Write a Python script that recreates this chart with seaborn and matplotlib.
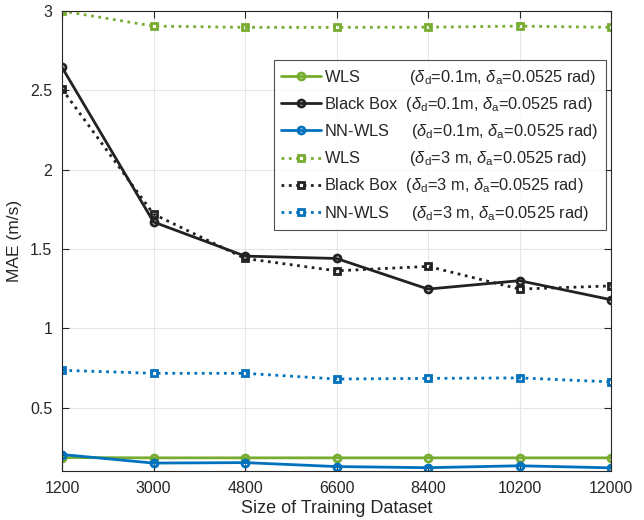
import numpy as np
import pandas as pd
import matplotlib
matplotlib.use("Agg")
import matplotlib.pyplot as plt
import seaborn as sns

sizes = [1200, 3000, 4800, 6600, 8400, 10200, 12000]
wls_01 = [0.185, 0.183, 0.183, 0.183, 0.183, 0.183, 0.183]
bb_01 = [2.645, 1.67, 1.455, 1.44, 1.247, 1.30, 1.18]
nn_01 = [0.204, 0.150, 0.153, 0.128, 0.121, 0.133, 0.120]
wls_3 = [3.0, 2.905, 2.897, 2.897, 2.898, 2.905, 2.897]
bb_3 = [2.508, 1.72, 1.44, 1.362, 1.39, 1.247, 1.267]
nn_3 = [0.735, 0.716, 0.716, 0.680, 0.684, 0.687, 0.662]

labels = [
    r'WLS           ($\delta_{\mathrm{d}}$=0.1m, $\delta_{\mathrm{a}}$=0.0525 rad)',
    r'Black Box  ($\delta_{\mathrm{d}}$=0.1m, $\delta_{\mathrm{a}}$=0.0525 rad)',
    r'NN-WLS     ($\delta_{\mathrm{d}}$=0.1m, $\delta_{\mathrm{a}}$=0.0525 rad)',
    r'WLS           ($\delta_{\mathrm{d}}$=3 m, $\delta_{\mathrm{a}}$=0.0525 rad)',
    r'Black Box  ($\delta_{\mathrm{d}}$=3 m, $\delta_{\mathrm{a}}$=0.0525 rad)',
    r'NN-WLS     ($\delta_{\mathrm{d}}$=3 m, $\delta_{\mathrm{a}}$=0.0525 rad)',
]

sns.set_theme(style="white")
plt.rcParams['font.family'] = ['Liberation Sans', 'DejaVu Sans']
plt.rcParams['mathtext.fontset'] = 'custom'
plt.rcParams['mathtext.rm'] = 'Liberation Sans'
plt.rcParams['mathtext.it'] = 'Liberation Sans:italic'

green = '#77AC30'
black = '#222222'
blue = '#0072BD'

fig = plt.figure(figsize=(6.44, 5.2), dpi=100)
ax = fig.add_axes([0.0963, 0.0942, 0.9488 - 0.0963, 0.9788 - 0.0942])

series = [
    (wls_01, green, '-', 'o'),
    (bb_01, black, '-', 'o'),
    (nn_01, blue, '-', 'o'),
    (wls_3, green, ':', 's'),
    (bb_3, black, ':', 's'),
    (nn_3, blue, ':', 's'),
]

for (vals, col, ls, mk), lab in zip(series, labels):
    df = pd.DataFrame({'x': sizes, 'y': vals})
    sns.lineplot(data=df, x='x', y='y', ax=ax, color=col, linestyle=ls,
                 marker=mk, markersize=5, markerfacecolor='none',
                 markeredgecolor=col, markeredgewidth=2, linewidth=2,
                 label=lab, sort=False)

ax.set_xlim(1200, 12000)
ax.set_ylim(0.1, 3.0)
ax.set_xticks(sizes)
ax.set_xticklabels([str(s) for s in sizes])
ax.set_yticks([0.5, 1, 1.5, 2, 2.5, 3])
ax.set_yticklabels(['0.5', '1', '1.5', '2', '2.5', '3'])
ax.grid(True, color='#e6e6e6', linewidth=0.8)
for s in ax.spines.values():
    s.set_color('#262626')
    s.set_linewidth(0.8)
ax.tick_params(direction='in', length=5, width=0.8, colors='#262626',
               labelsize=11.5, top=True, right=True, bottom=True, left=True,
               labeltop=False, labelright=False, pad=7)
ax.set_xlabel('Size of Training Dataset', fontsize=13, color='#262626', labelpad=3)
ax.set_ylabel('MAE (m/s)', fontsize=12.5, color='#262626', labelpad=6)

leg = ax.legend(loc='upper right', bbox_to_anchor=(0.996, 0.9), fontsize=11.8,
                frameon=True, fancybox=False, edgecolor='#262626',
                handlelength=2.4, handletextpad=0.2, labelspacing=0.5,
                borderpad=0.45, borderaxespad=0.2)
leg.get_frame().set_linewidth(0.8)

fig.savefig('out.png', dpi=100)
